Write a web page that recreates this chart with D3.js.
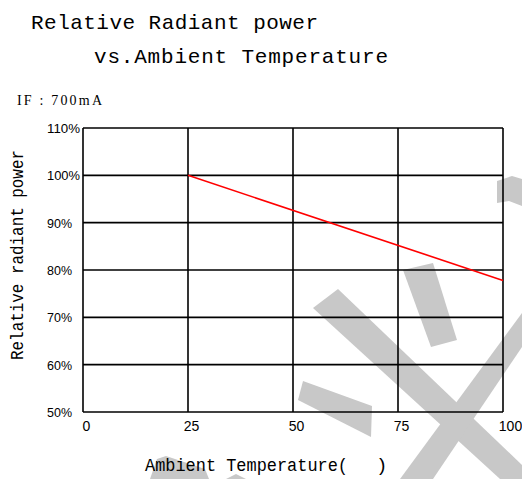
<!DOCTYPE html>
<html>
<head>
<meta charset="utf-8">
<script src="https://cdn.jsdelivr.net/npm/d3@7/dist/d3.min.js"></script>
<style>
  body { margin: 0; background: #fff; }
  svg { display: block; }
</style>
</head>
<body>
<svg width="522" height="479"></svg>
<script>
// data
const temps = [25, 100];            // ambient temperature (deg C)
const power = [100, 77.8];          // relative radiant power (%)
const xTicks = [0, 25, 50, 75, 100];
const yTicks = [50, 60, 70, 80, 90, 100, 110];

const width = 522, height = 479;
let plotLeft = 83, plotRight = 503, plotTop = 128, plotBottom = 412;

const svg = d3.select("svg");

// grey brush watermark behind the chart (scan artefact, pixel space)
const watermark = [
    [[497,181],[512,176],[522,179],[522,206],[509,201],[497,203]],
    [[403,270],[433,263],[457,340],[431,347]],
    [[313,308],[338,289],[522,465],[522,479],[500,479]],
    [[522,313],[522,347],[433,479],[400,479]],
    [[303,381],[372,406],[371,437],[298,400]],
    [[150,479],[157,459],[166,456],[205,469],[209,479]],
    [[226,479],[236,474],[246,479]]
];
svg.append("g").selectAll("path").data(watermark)
    .enter().append("path")
    .attr("d", d => "M" + d.join("L") + "Z")
    .attr("fill", "#c8c8c8");

const x = d3.scaleLinear()
    .domain([0, 100])
    .range([plotLeft, plotRight]);

const y = d3.scaleLinear()
    .domain([50, 110])
    .range([plotBottom, plotTop]);

// grid
const grid = svg.append("g")
    .attr("stroke", "#000")
    .attr("stroke-width", 1.6);

grid.selectAll("line.h").data(yTicks)
    .enter().append("line")
    .attr("class", "h")
    .attr("x1", x(0)).attr("x2", x(100))
    .attr("y1", d => y(d)).attr("y2", d => y(d));

grid.selectAll("line.v").data(xTicks)
    .enter().append("line")
    .attr("class", "v")
    .attr("x1", d => x(d)).attr("x2", d => x(d))
    .attr("y1", y(110)).attr("y2", y(50));

// red curve
const line = d3.line()
    .x(d => x(d[0]))
    .y(d => y(d[1]));

svg.append("path")
    .datum(temps.map((t, i) => [t, power[i]]))
    .attr("d", line)
    .attr("fill", "none")
    .attr("stroke", "#ff0000")
    .attr("stroke-width", 1.6);

// x axis labels
const xAxisCall = d3.axisBottom(x).tickValues(xTicks).tickSize(0).tickPadding(0);
const xAxisG = svg.append("g")
    .attr("transform", `translate(0, ${plotBottom})`)
    .call(xAxisCall);
xAxisG.select(".domain").remove();
xAxisG.selectAll("text")
    .attr("y", 19)
    .attr("dy", 0)
    .attr("dx", d => d == 100 ? 7 : 3)
    .attr("fill", "#000")
    .attr("font-family", "'Liberation Sans', Arial, sans-serif")
    .attr("font-size", "14px");

// y axis labels, left aligned
svg.append("g").selectAll("text").data(yTicks)
    .enter().append("text")
    .attr("x", 47)
    .attr("y", d => y(d) + 5)
    .attr("font-family", "'Liberation Sans', Arial, sans-serif")
    .attr("font-size", "13.5px")
    .attr("textLength", d => d >= 100 ? 33 : 25)
    .attr("lengthAdjust", "spacingAndGlyphs")
    .text(d => d + "%");

// titles
const mono = "'Liberation Mono', 'DejaVu Sans Mono', monospace";

svg.append("text")
    .attr("x", 31).attr("y", 29)
    .attr("font-family", mono)
    .attr("font-size", "21px")
    .attr("textLength", 287)
    .attr("lengthAdjust", "spacing")
    .text("Relative Radiant power");

svg.append("text")
    .attr("x", 94).attr("y", 63)
    .attr("font-family", mono)
    .attr("font-size", "21px")
    .attr("textLength", 294)
    .attr("lengthAdjust", "spacing")
    .text("vs.Ambient Temperature");

svg.append("text")
    .attr("x", 17).attr("y", 105)
    .attr("font-family", "'Liberation Serif', 'Times New Roman', serif")
    .attr("font-size", "14px")
    .attr("textLength", 85)
    .attr("lengthAdjust", "spacing")
    .text("IF : 700mA");

// X label
svg.append("text")
    .attr("x", 145).attr("y", 471)
    .attr("font-family", mono)
    .attr("font-size", "19px")
    .attr("textLength", 203)
    .attr("lengthAdjust", "spacingAndGlyphs")
    .text("Ambient Temperature(");

svg.append("text")
    .attr("x", 376).attr("y", 471)
    .attr("font-family", mono)
    .attr("font-size", "19px")
    .text(")");

// Y label
svg.append("text")
    .attr("transform", "rotate(-90)")
    .attr("x", -255).attr("y", 23)
    .attr("text-anchor", "middle")
    .attr("font-family", mono)
    .attr("font-size", "19px")
    .attr("textLength", 210)
    .attr("lengthAdjust", "spacingAndGlyphs")
    .text("Relative radiant power");
</script>
</body>
</html>
